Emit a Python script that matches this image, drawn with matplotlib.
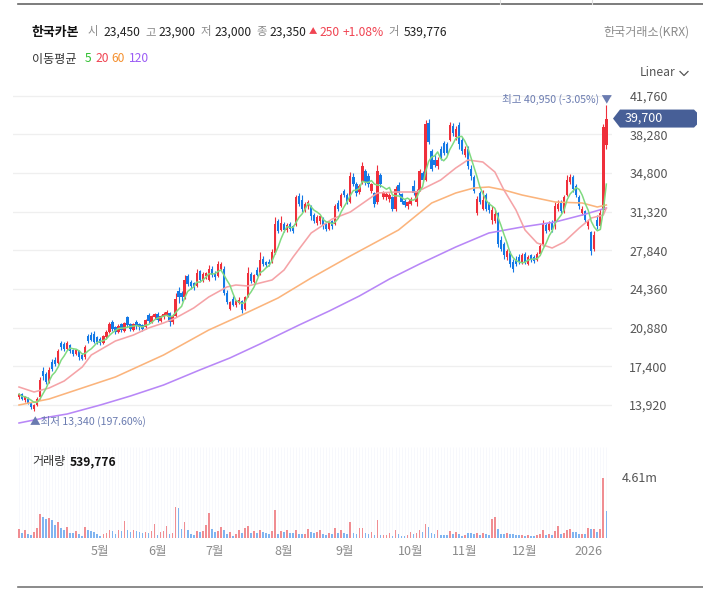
import numpy as np
import pandas as pd
import matplotlib
matplotlib.use("Agg")
import matplotlib.pyplot as plt
from matplotlib.patches import Polygon
from matplotlib.transforms import blended_transform_factory

plt.rcParams['font.family'] = ['Noto Sans CJK KR', 'DejaVu Sans']

# ---- daily candles, prices in hundreds of won ----
opens_h = [
    146, 149, 144, 145, 141, 136, 139, 146, 170, 167,
    160, 178, 180, 177, 195, 194, 190, 193, 189, 185,
    188, 184, 182, 201, 202, 203, 200, 199, 195, 200,
    205, 214, 209, 205, 212, 206, 218, 212, 207, 214,
    212, 211, 209, 220, 214, 218, 221, 215, 218, 220,
    222, 214, 219, 242, 240, 236, 255, 250, 249, 246,
    260, 251, 255, 252, 262, 258, 255, 262, 262, 240,
    226, 235, 229, 231, 233, 226, 237, 257, 250, 261,
    257, 271, 268, 268, 268, 276, 305, 297, 302, 297,
    302, 300, 301, 327, 324, 315, 318, 318, 310, 303,
    305, 307, 302, 298, 305, 302, 321, 318, 332, 328,
    322, 344, 338, 331, 340, 350, 345, 332, 330, 322,
    346, 326, 326, 325, 326, 316, 337, 329, 323, 318,
    320, 336, 322, 333, 348, 342, 393, 368, 360, 354,
    370, 375, 374, 378, 390, 380, 391, 378, 364, 370,
    352, 344, 312, 330, 316, 328, 320, 306, 305, 312,
    288, 284, 272, 276, 268, 270, 272, 268, 275, 266,
    274, 272, 270, 275, 283, 301, 297, 303, 300, 316,
    322, 314, 328, 340, 344, 336, 326, 312, 314, 300,
    295, 280, 306, 300, 315, 373,
]
highs_h = [
    150, 150, 147, 146, 142, 140, 146, 164, 173, 169,
    173, 181, 182, 190, 197, 196, 197, 194, 190, 190,
    189, 186, 193, 203, 205, 206, 201, 200, 202, 207,
    214, 216, 210, 212, 213, 214, 219, 213, 213, 216,
    213, 212, 217, 222, 220, 222, 223, 220, 223, 225,
    223, 221, 240, 245, 242, 256, 257, 252, 250, 262,
    261, 259, 259, 265, 264, 260, 269, 268, 264, 243,
    233, 237, 234, 236, 234, 237, 263, 259, 257, 263,
    277, 273, 269, 271, 280, 308, 307, 309, 304, 303,
    304, 301, 328, 330, 328, 322, 324, 319, 312, 310,
    310, 308, 303, 305, 306, 320, 324, 330, 334, 330,
    349, 348, 340, 338, 358, 352, 348, 339, 331, 355,
    348, 332, 331, 330, 327, 336, 340, 330, 325, 323,
    326, 342, 334, 352, 350, 396, 397, 370, 365, 362,
    372, 377, 376, 394, 393, 390, 394, 380, 372, 372,
    355, 346, 327, 332, 333, 330, 322, 318, 315, 313,
    291, 286, 280, 278, 271, 273, 275, 276, 277, 274,
    275, 274, 277, 285, 306, 303, 305, 306, 322, 324,
    324, 328, 346, 347, 346, 338, 328, 318, 315, 306,
    296, 296, 310, 316, 392, 409.5,
]
lows_h = [
    145, 144, 142, 140, 136, 133.4, 138, 145, 162, 158,
    159, 170, 174, 176, 189, 188, 189, 186, 183, 184,
    180, 180, 181, 195, 197, 195, 194, 193, 194, 199,
    204, 206, 203, 204, 205, 205, 209, 206, 206, 208,
    207, 206, 208, 213, 213, 217, 214, 214, 217, 219,
    210, 212, 218, 231, 233, 235, 246, 244, 243, 245,
    250, 250, 253, 251, 254, 252, 254, 261, 238, 230,
    225, 228, 227, 230, 222, 225, 236, 249, 249, 255,
    256, 264, 263, 264, 267, 275, 294, 296, 295, 295,
    296, 294, 300, 318, 313, 313, 316, 306, 303, 301,
    302, 298, 296, 297, 298, 301, 314, 317, 326, 320,
    321, 336, 327, 329, 338, 337, 335, 330, 317, 320,
    335, 325, 324, 322, 314, 314, 328, 320, 317, 316,
    319, 328, 318, 332, 340, 341, 374, 350, 353, 352,
    360, 364, 364, 377, 381, 378, 370, 365, 362, 352,
    342, 330, 310, 320, 315, 314, 312, 302, 303, 281,
    278, 271, 270, 263, 259, 264, 266, 266, 266, 265,
    268, 267, 269, 274, 282, 294, 296, 295, 298, 314,
    312, 312, 327, 338, 331, 326, 316, 310, 304, 298,
    274, 278, 298, 298, 312, 370,
]
closes_h = [
    149, 145, 146, 141, 137, 139, 145, 162, 165, 160,
    171, 172, 176, 188, 191, 190, 195, 188, 185, 189,
    182, 181, 191, 197, 198, 196, 196, 195, 201, 205,
    212, 208, 205, 210, 207, 213, 211, 208, 212, 210,
    209, 208, 216, 215, 219, 221, 216, 219, 221, 223,
    214, 219, 235, 236, 236, 252, 248, 246, 245, 258,
    252, 257, 258, 262, 256, 254, 266, 266, 240, 232,
    232, 229, 233, 234, 225, 236, 258, 251, 256, 256,
    270, 266, 265, 266, 277, 302, 296, 303, 297, 301,
    298, 296, 326, 320, 316, 320, 322, 309, 305, 308,
    309, 300, 298, 304, 300, 318, 316, 328, 328, 322,
    345, 338, 330, 336, 354, 340, 338, 338, 320, 350,
    338, 330, 329, 328, 316, 334, 330, 322, 319, 322,
    325, 330, 332, 350, 342, 392, 376, 352, 355, 360,
    362, 366, 366, 391, 384, 388, 374, 368, 370, 354,
    345, 332, 325, 322, 324, 316, 315, 315, 311, 284,
    280, 274, 278, 266, 262, 266, 268, 274, 268, 272,
    270, 269, 275, 282, 302, 296, 302, 297, 318, 320,
    314, 326, 342, 344, 334, 328, 318, 316, 306, 304,
    278, 292, 300, 312, 389, 397,
]

# volume in thousands of shares, colour of each bar (r = up, b = down)
volume_k = [
    725, 414, 648, 337, 259, 466, 803, 1813, 1580, 1425,
    1502, 1347, 1036, 1191, 803, 648, 881, 414, 414, 570,
    337, 181, 881, 648, 570, 492, 337, 181, 337, 414,
    648, 570, 337, 648, 570, 1269, 648, 492, 648, 570,
    492, 414, 492, 414, 570, 1114, 259, 492, 570, 958,
    337, 414, 2357, 2279, 725, 1191, 648, 337, 259, 570,
    492, 570, 1036, 1891, 725, 492, 570, 881, 648, 337,
    492, 181, 337, 648, 414, 803, 958, 414, 570, 414,
    648, 492, 414, 337, 570, 2124, 337, 570, 492, 648,
    414, 414, 648, 337, 337, 337, 725, 492, 414,
    492, 648, 337, 259, 414, 337, 803, 414, 648, 414,
    337, 1191, 414, 337, 803, 803, 414, 337, 492, 259,
    1347, 259, 259, 259, 414, 181, 648, 337, 181, 181,
    259, 492, 337, 414, 648, 492, 1114, 881, 414, 337,
    648, 259, 259, 259, 570, 337, 492, 337, 181, 259,
    414, 414, 337, 414, 259, 414, 337, 259, 1425, 1580,
    725, 337, 337, 414, 337, 337, 259, 259, 259, 181,
    259, 181, 181, 259, 337, 648, 259, 337, 259, 570,
    958, 337, 414, 648, 725, 492, 492, 337, 337, 337,
    803, 725, 725, 492, 725, 4610, 2046,
]
vol_dir = ("rbrbbrrrbb" "rbbrbbrbbr" "bbrbbbbbrr" "rbbrbrbbrb" "bbrbrrbrrr"
           "brrbbrbbbr" "brrrbbrrbb" "rbrrbrrbrb" "rbbbrrbrbr" "bbrbbrrbb"
           "rrbbrbrbrb" "brbbrrbbrb" "rbrrrbrbbb" "rrbrrbrbbb" "rbbbrbrbbr"
           "bbbrbrbbrr" "bbbrbbbbrb" "rbbrrrbrbr" "rbrrrbbbrb" "rbrbrrb")

# moving averages (day index, won)
ma20_idx = [0, 5, 10, 15, 21, 24, 28, 32, 38, 43, 48, 52, 58, 63, 69, 72, 76, 80, 84, 88,
            91, 97, 104, 110, 119, 125, 132, 140, 145, 149, 154, 158, 161, 165, 168, 172,
            177, 181, 186, 190, 194, 195]
ma20_val = [15540, 15090, 15450, 16080, 17340, 18420, 19050, 19680, 20220, 20850, 21300,
            21750, 22650, 23640, 24540, 24720, 24630, 24900, 25170, 26070, 27240, 29400,
            30660, 31290, 33000, 33090, 33090, 34170, 35250, 35970, 35790, 34890, 33270,
            31470, 29670, 28500, 28050, 28590, 29850, 30750, 31020, 31650]
ma60_idx = [0, 10, 21, 32, 40, 48, 57, 63, 74, 86, 97, 110, 126, 137, 145, 151, 156, 161,
            167, 178, 187, 192, 195]
ma60_val = [13920, 14460, 15450, 16440, 17430, 18420, 19770, 20670, 22020, 23550, 25350,
            27330, 29670, 32100, 33000, 33450, 33540, 33270, 32820, 32190, 32100, 31740, 31920]
ma120_idx = [0, 10, 16, 27, 37, 48, 60, 70, 80, 93, 103, 113, 123, 133, 145, 156, 167, 178,
             187, 195]
ma120_val = [12300, 12840, 13110, 13920, 14730, 15720, 17070, 18150, 19410, 21120, 22380,
             23730, 25260, 26610, 28140, 29400, 29940, 30390, 31020, 31650]

month_idx = [27, 46, 65, 88, 108, 130, 148, 168, 189]
month_labels = ['5월', '6월', '7월', '8월', '9월', '10월', '11월', '12월', '2026']
price_ticks = [13920, 17400, 20880, 24360, 27840, 31320, 34800, 38280, 41760]

W, H = 703, 592
RED = '#ef2f3b'
BLUE = '#1479e6'
VRED = '#f08d92'
VBLUE = '#80b4f0'

o = np.array(opens_h) * 100.0
h = np.array(highs_h) * 100.0
l = np.array(lows_h) * 100.0
c = np.array(closes_h) * 100.0
v = np.array(volume_k) * 1000.0
idx = np.arange(len(c))

fig = plt.figure(figsize=(W / 100, H / 100), dpi=100)


def rect(left, top, right, bottom):
    return [left / W, 1 - bottom / H, (right - left) / W, (bottom - top) / H]


ax = fig.add_axes(rect(13, 88, 612, 430))
axv = fig.add_axes(rect(13, 447, 612, 538))
ov = fig.add_axes([0, 0, 1, 1], zorder=5)
ov.set_xlim(0, W)
ov.set_ylim(H, 0)
ov.axis('off')

step = 3.012
for a in (ax, axv):
    a.set_xlim((13 - 19) / step, (612 - 19) / step)
    for s in a.spines.values():
        s.set_visible(False)

# price panel
ax.set_ylim(11670, 42450)
ax.set_yticks(price_ticks, [f"{t:,}" for t in price_ticks])
ax.set_xticks([])
ax.grid(axis='y', color='#efefef', lw=0.9)
ax.set_axisbelow(True)
ax.tick_params(axis='y', left=False, right=False, labelleft=False, labelright=True,
               pad=9, labelsize=9, labelcolor='#555555')

col = np.where(c >= o, RED, BLUE)
ax.vlines(idx, l, h, colors=col, lw=0.8, zorder=2)
ax.bar(idx, np.maximum(np.abs(c - o), 70), bottom=np.minimum(o, c), width=0.78,
       color=col, lw=0, zorder=3)

ma5 = pd.Series(c).rolling(5, min_periods=1).mean()
ax.plot(ma120_idx, ma120_val, color='#b887f7', lw=1.15, zorder=4)
ax.plot(ma60_idx, ma60_val, color='#fbb47c', lw=1.15, zorder=4)
ax.plot(ma20_idx, ma20_val, color='#f5a3a7', lw=1.15, zorder=4)
ax.plot(idx, ma5, color='#80da80', lw=1.1, zorder=4)

hi_i = int(np.argmax(h))
lo_i = int(np.argmin(l))
last = c[-1]
mark = '#6a7bb0'
ax.annotate(f"최고 {h[hi_i]:,.0f} ({(last / h[hi_i] - 1) * 100:.2f}%) ▼", xy=(hi_i, h[hi_i]),
            xytext=(4, 4), textcoords='offset points', ha='right', va='center',
            fontsize=7.6, color=mark, annotation_clip=False, zorder=6)
ax.annotate(f"▲최저 {l[lo_i]:,.0f} ({(last / l[lo_i] - 1) * 100:.2f}%)", xy=(lo_i, l[lo_i]),
            xytext=(-3, -7.5), textcoords='offset points', ha='left', va='center',
            fontsize=7.6, color=mark, annotation_clip=False, zorder=6)

# current price tag
yc = H - ax.transData.transform((0, last))[1]
ov.add_patch(Polygon([(613, yc), (620, yc - 9), (694, yc - 9), (697, yc - 6),
                      (697, yc + 6), (694, yc + 9), (620, yc + 9)],
                     closed=True, color='#475f97', lw=0))
ov.text(625, yc, f"{last:,.0f}", color='white', fontsize=9, va='center', ha='left')

# volume panel
vtop = v.max() * 91 / 60
axv.set_ylim(0, vtop)
axv.vlines(idx, 0, vtop, colors='#f7f8fc', lw=0.7, zorder=0)
vcol = [VRED if d == 'r' else VBLUE for d in vol_dir]
axv.bar(idx, v, width=0.55, color=vcol, lw=0, zorder=2)
axv.set_yticks([])
axv.set_xticks(month_idx, month_labels)
axv.tick_params(axis='x', length=0, pad=5, labelsize=9, labelcolor='#8a8a8a')
vt = blended_transform_factory(axv.transAxes, axv.transData)
axv.text((622 - 13) / 599, v.max(), f"{v.max() / 1e6:.2f}m", transform=vt,
         va='center', ha='left', fontsize=9, color='#555555')

ov.text(32, 462, "거래량", fontsize=8.7, color='#333333', va='center')
ov.text(70, 462, "539,776", fontsize=8.7, color='#111111', va='center', weight='bold')

# header
row = 32
ov.text(32, row, "한국카본", fontsize=9.3, weight='bold', color='#111111', va='center')
header = [(88, "시", '#8b8b8b'), (103, "23,450", '#222222'),
          (145, "고", '#8b8b8b'), (158, "23,900", '#222222'),
          (201, "저", '#8b8b8b'), (214, "23,000", '#222222'),
          (256, "종", '#8b8b8b'), (269, "23,350", '#222222'),
          (319, "250", '#f04452'), (343, "+1.08%", '#f04452'),
          (388, "거", '#8b8b8b'), (404, "539,776", '#222222')]
for x, s, cc in header:
    size = 8.2 if len(s) == 1 else 8.7
    ov.text(x, row, s, fontsize=size, color=cc, va='center')
ov.text(309, row, "▲", fontsize=6, color='#f04452', va='center')
ov.text(689, row, "한국거래소(KRX)", fontsize=8.7, color='#8b8b8b', va='center', ha='right')

ov.text(32, 59, "이동평균", fontsize=8.7, color='#333333', va='center')
for x, s, cc in [(85, "5", '#2fbf2f'), (95, "20", '#f04452'), (111, "60", '#f5902f'),
                 (129, "120", '#9b5cf5')]:
    ov.text(x, 59, s, fontsize=8.7, color=cc, va='center')

ov.text(640, 73, "Linear", fontsize=8.7, color='#555555', va='center')
ov.plot([680, 684, 688], [71.5, 75.5, 71.5], color='#555555', lw=0.9)

# frame lines
ov.plot([18, W], [4, 4], color='#666666', lw=1.2)
ov.plot([500, 500], [0, 4], color='#dddddd', lw=0.8)
ov.plot([592, 592], [0, 4], color='#dddddd', lw=0.8)
ov.plot([18, W], [587, 587], color='#777777', lw=1.2)

fig.savefig("out.png", dpi=100)
